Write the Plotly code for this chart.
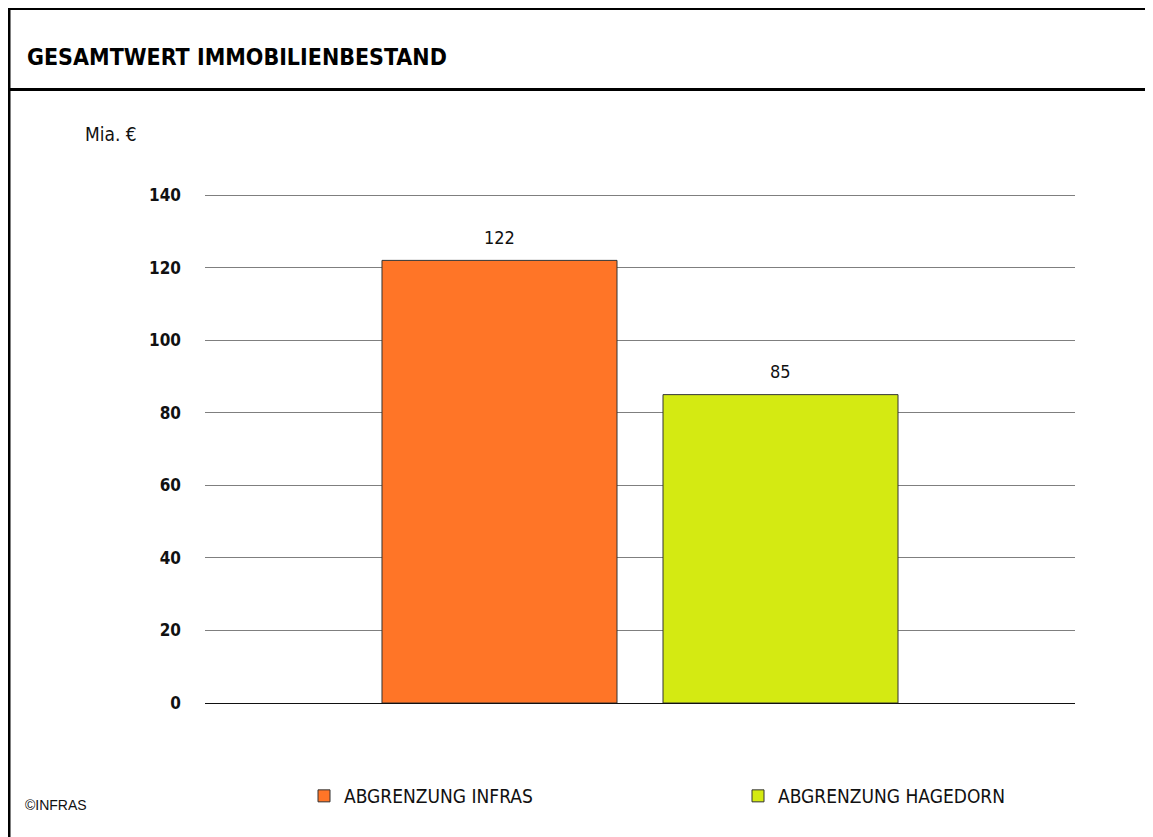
import plotly.graph_objects as go

categories = ["Gesamtwert"]
series_names = ["ABGRENZUNG INFRAS", "ABGRENZUNG HAGEDORN"]
series_values = [[122], [85]]
series_colors = ["#FF7527", "#D4EA12"]
tick_vals = [0, 20, 40, 60, 80, 100, 120, 140]

# page has an 8px body margin; figure coordinates = page - 8
OFF = 8
W, H = 1145, 829
L, R, T, B = 197, 78, 186, 134
pw, ph = W - L - R, H - T - B

def px(page_x):
    return (page_x - OFF - L) / pw

def py(page_y):
    return (H - B - (page_y - OFF)) / ph

font_main = "DejaVu Sans Condensed"
slot_px = 281  # distance between bar centres

fig = go.Figure()
for i, (name, vals, col) in enumerate(zip(series_names, series_values, series_colors)):
    fig.add_trace(go.Bar(
        x=categories, y=vals, name=name,
        marker=dict(color=col, line=dict(color="#333333", width=1)),
        legend="legend" if i == 0 else "legend2",
    ))
    for c, v in zip(categories, vals):
        fig.add_annotation(x=c, y=v, xref="x", yref="y", text=str(v), showarrow=False,
                           xshift=(i - 0.5) * slot_px, yshift=23, yanchor="middle",
                           font=dict(family=font_main, size=18, color="#111111"))

fig.update_layout(
    width=W, height=H,
    margin=dict(l=L, r=R, t=T, b=B),
    paper_bgcolor="white", plot_bgcolor="white",
    barmode="group", bargap=0.354, bargroupgap=0.1637,
    showlegend=True,
    font=dict(family=font_main, color="#111111"),
    xaxis=dict(type="category", range=[-0.5, 0.5], showticklabels=False, showgrid=False,
               zeroline=False, showline=False, ticks=""),
    yaxis=dict(range=[0, 140.3], tickvals=tick_vals, showgrid=True, gridcolor="#7f7f7f", gridwidth=1,
               zeroline=True, zerolinecolor="#111111", zerolinewidth=1, showline=False,
               ticks="", ticklabelstandoff=23,
               tickfont=dict(family=font_main, size=17, color="#111111", weight="bold")),
    legend=dict(orientation="h", x=px(304), y=py(796), xanchor="left", yanchor="middle",
                font=dict(family=font_main, size=19, color="#111111"), bgcolor="rgba(0,0,0,0)"),
    legend2=dict(orientation="h", x=px(738), y=py(796), xanchor="left", yanchor="middle",
                 font=dict(family=font_main, size=19, color="#111111"), bgcolor="rgba(0,0,0,0)"),
)

# Title
fig.add_annotation(text="<b>GESAMTWERT IMMOBILIENBESTAND</b>", xref="paper", yref="paper",
                   x=px(25), y=py(57), xanchor="left", yanchor="middle", showarrow=False,
                   font=dict(family=font_main, size=23, color="#000000"))
fig.add_annotation(text="Mia. €", xref="paper", yref="paper",
                   x=px(83), y=py(134), xanchor="left", yanchor="middle", showarrow=False,
                   font=dict(family=font_main, size=19, color="#111111"))
fig.add_annotation(text="©INFRAS", xref="paper", yref="paper",
                   x=px(23), y=py(805), xanchor="left", yanchor="middle", showarrow=False,
                   font=dict(family="Liberation Sans", size=14, color="#111111"))

# Frame lines
frame = dict(color="#000000", width=3)
fig.add_shape(type="line", xref="paper", yref="paper", x0=px(9), x1=px(9), y0=py(7), y1=py(845), line=frame)
fig.add_shape(type="line", xref="paper", yref="paper", x0=px(1148.5), x1=px(1148.5), y0=py(7), y1=py(845), line=frame)
fig.add_shape(type="line", xref="paper", yref="paper", x0=px(7.5), x1=px(1150), y0=py(8.5), y1=py(8.5), line=frame)
fig.add_shape(type="line", xref="paper", yref="paper", x0=px(7.5), x1=px(1150), y0=py(89.5), y1=py(89.5), line=frame)

fig.write_html("out.html")
